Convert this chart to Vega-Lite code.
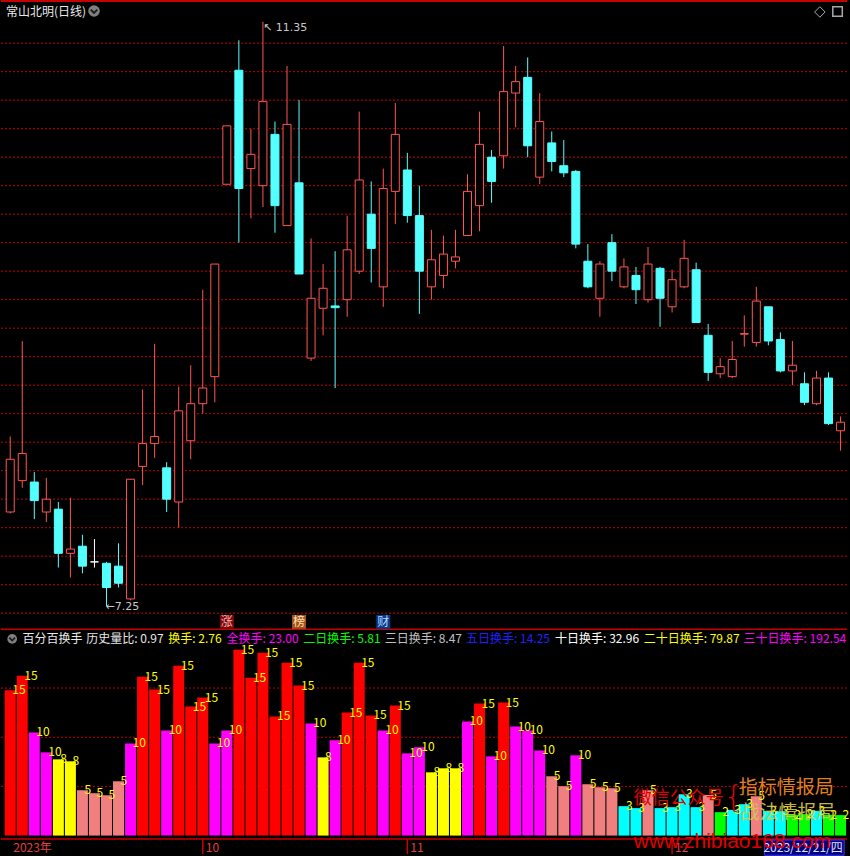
{
"$schema":"https://vega.github.io/schema/vega-lite/v6.json",
"width":850,"height":856,
"autosize":{"type":"fit","contains":"padding"},
"padding":0,
"background":"#000000",
"config":{"view":{"stroke":null},"text":{"font":"Noto Sans CJK SC"}},
"datasets":{
"k":[
{"i":0,"date":"2023-09-07","open":7.91,"high":8.44,"low":7.90,"close":8.28,"v":14.77,"lvl":15},
{"i":1,"date":"2023-09-08","open":8.13,"high":9.11,"low":8.08,"close":8.32,"v":16.26,"lvl":15},
{"i":2,"date":"2023-09-11","open":8.12,"high":8.19,"low":7.86,"close":7.99,"v":10.49,"lvl":10},
{"i":3,"date":"2023-09-12","open":7.91,"high":8.15,"low":7.84,"close":8.00,"v":8.46,"lvl":10},
{"i":4,"date":"2023-09-13","open":7.93,"high":7.98,"low":7.52,"close":7.62,"v":7.75,"lvl":8},
{"i":5,"date":"2023-09-14","open":7.62,"high":8.01,"low":7.45,"close":7.65,"v":7.55,"lvl":8},
{"i":6,"date":"2023-09-15","open":7.67,"high":7.75,"low":7.48,"close":7.53,"v":4.61,"lvl":5},
{"i":7,"date":"2023-09-18","open":7.56,"high":7.72,"low":7.52,"close":7.56,"v":4.31,"lvl":5},
{"i":8,"date":"2023-09-19","open":7.55,"high":7.56,"low":7.25,"close":7.38,"v":4.10,"lvl":5},
{"i":9,"date":"2023-09-20","open":7.53,"high":7.69,"low":7.38,"close":7.41,"v":5.52,"lvl":5},
{"i":10,"date":"2023-09-21","open":7.30,"high":8.14,"low":7.29,"close":8.14,"v":9.37,"lvl":10},
{"i":11,"date":"2023-09-22","open":8.23,"high":8.77,"low":8.10,"close":8.39,"v":16.16,"lvl":15},
{"i":12,"date":"2023-09-25","open":8.39,"high":9.09,"low":8.29,"close":8.44,"v":14.84,"lvl":15},
{"i":13,"date":"2023-09-26","open":8.22,"high":8.26,"low":7.91,"close":8.00,"v":10.69,"lvl":10},
{"i":14,"date":"2023-09-27","open":7.98,"high":8.79,"low":7.80,"close":8.62,"v":17.27,"lvl":15},
{"i":15,"date":"2023-09-28","open":8.41,"high":8.94,"low":8.28,"close":8.67,"v":13.12,"lvl":15},
{"i":16,"date":"2023-10-09","open":8.67,"high":9.47,"low":8.60,"close":8.78,"v":14.03,"lvl":15},
{"i":17,"date":"2023-10-10","open":8.86,"high":9.65,"low":8.68,"close":9.65,"v":9.37,"lvl":10},
{"i":18,"date":"2023-10-11","open":10.21,"high":10.62,"low":10.21,"close":10.62,"v":10.69,"lvl":10},
{"i":19,"date":"2023-10-12","open":11.01,"high":11.22,"low":9.80,"close":10.18,"v":18.9,"lvl":15},
{"i":20,"date":"2023-10-13","open":10.32,"high":10.60,"low":9.97,"close":10.42,"v":16.06,"lvl":15},
{"i":21,"date":"2023-10-16","open":10.20,"high":11.35,"low":10.05,"close":10.79,"v":18.59,"lvl":15},
{"i":22,"date":"2023-10-17","open":10.56,"high":10.65,"low":9.87,"close":10.06,"v":12.11,"lvl":15},
{"i":23,"date":"2023-10-18","open":9.92,"high":11.04,"low":9.92,"close":10.63,"v":17.58,"lvl":15},
{"i":24,"date":"2023-10-19","open":10.22,"high":10.80,"low":9.58,"close":9.58,"v":15.25,"lvl":15},
{"i":25,"date":"2023-10-20","open":8.99,"high":9.83,"low":8.97,"close":9.41,"v":11.40,"lvl":10},
{"i":26,"date":"2023-10-23","open":9.34,"high":9.65,"low":9.15,"close":9.48,"v":7.95,"lvl":8},
{"i":27,"date":"2023-10-24","open":9.356,"high":9.74,"low":8.78,"close":9.344,"v":9.68,"lvl":10},
{"i":28,"date":"2023-10-25","open":9.40,"high":9.99,"low":9.28,"close":9.75,"v":12.51,"lvl":15},
{"i":29,"date":"2023-10-26","open":9.60,"high":10.72,"low":9.58,"close":10.24,"v":17.58,"lvl":15},
{"i":30,"date":"2023-10-27","open":10.00,"high":10.23,"low":9.52,"close":9.76,"v":12.21,"lvl":15},
{"i":31,"date":"2023-10-30","open":9.49,"high":10.32,"low":9.35,"close":10.18,"v":10.69,"lvl":10},
{"i":32,"date":"2023-10-31","open":10.16,"high":10.78,"low":9.93,"close":10.56,"v":13.22,"lvl":15},
{"i":33,"date":"2023-11-01","open":10.31,"high":10.43,"low":9.94,"close":9.99,"v":8.36,"lvl":10},
{"i":34,"date":"2023-11-02","open":9.99,"high":10.20,"low":9.30,"close":9.60,"v":8.97,"lvl":10},
{"i":35,"date":"2023-11-03","open":9.49,"high":9.89,"low":9.40,"close":9.68,"v":6.43,"lvl":8},
{"i":36,"date":"2023-11-06","open":9.57,"high":9.85,"low":9.48,"close":9.72,"v":6.84,"lvl":8},
{"i":37,"date":"2023-11-07","open":9.67,"high":9.89,"low":9.62,"close":9.70,"v":6.84,"lvl":8},
{"i":38,"date":"2023-11-08","open":9.85,"high":10.28,"low":9.85,"close":10.16,"v":11.6,"lvl":10},
{"i":39,"date":"2023-11-09","open":10.06,"high":10.72,"low":9.88,"close":10.49,"v":13.42,"lvl":15},
{"i":40,"date":"2023-11-10","open":10.40,"high":10.45,"low":10.08,"close":10.23,"v":8.05,"lvl":10},
{"i":41,"date":"2023-11-13","open":10.41,"high":11.18,"low":10.32,"close":10.86,"v":13.53,"lvl":15},
{"i":42,"date":"2023-11-14","open":10.85,"high":11.04,"low":10.61,"close":10.93,"v":11.09,"lvl":10},
{"i":43,"date":"2023-11-15","open":10.96,"high":11.10,"low":10.40,"close":10.48,"v":10.69,"lvl":10},
{"i":44,"date":"2023-11-16","open":10.26,"high":10.85,"low":10.21,"close":10.65,"v":8.66,"lvl":10},
{"i":45,"date":"2023-11-17","open":10.50,"high":10.58,"low":10.30,"close":10.37,"v":6.03,"lvl":5},
{"i":46,"date":"2023-11-20","open":10.34,"high":10.52,"low":10.26,"close":10.29,"v":5.02,"lvl":5},
{"i":47,"date":"2023-11-21","open":10.30,"high":10.31,"low":9.76,"close":9.79,"v":8.16,"lvl":10},
{"i":48,"date":"2023-11-22","open":9.67,"high":9.79,"low":9.48,"close":9.49,"v":5.22,"lvl":5},
{"i":49,"date":"2023-11-23","open":9.41,"high":9.67,"low":9.28,"close":9.65,"v":4.91,"lvl":5},
{"i":50,"date":"2023-11-24","open":9.80,"high":9.86,"low":9.53,"close":9.60,"v":4.81,"lvl":5},
{"i":51,"date":"2023-11-27","open":9.49,"high":9.69,"low":9.48,"close":9.63,"v":2.99,"lvl":3},
{"i":52,"date":"2023-11-28","open":9.57,"high":9.63,"low":9.37,"close":9.47,"v":2.79,"lvl":3},
{"i":53,"date":"2023-11-29","open":9.40,"high":9.77,"low":9.38,"close":9.65,"v":4.61,"lvl":5},
{"i":54,"date":"2023-11-30","open":9.62,"high":9.63,"low":9.21,"close":9.41,"v":2.79,"lvl":3},
{"i":55,"date":"2023-12-01","open":9.35,"high":9.61,"low":9.31,"close":9.54,"v":2.89,"lvl":3},
{"i":56,"date":"2023-12-04","open":9.49,"high":9.82,"low":9.48,"close":9.69,"v":4.2,"lvl":3},
{"i":57,"date":"2023-12-05","open":9.61,"high":9.66,"low":9.24,"close":9.24,"v":2.89,"lvl":3},
{"i":58,"date":"2023-12-06","open":9.15,"high":9.23,"low":8.83,"close":8.89,"v":4.13,"lvl":5},
{"i":59,"date":"2023-12-07","open":8.88,"high":8.99,"low":8.85,"close":8.93,"v":2.38,"lvl":2},
{"i":60,"date":"2023-12-08","open":8.86,"high":9.11,"low":8.85,"close":8.98,"v":2.61,"lvl":3},
{"i":61,"date":"2023-12-11","open":9.158,"high":9.29,"low":9.07,"close":9.162,"v":3.19,"lvl":3},
{"i":62,"date":"2023-12-12","open":9.10,"high":9.49,"low":9.07,"close":9.39,"v":4.0,"lvl":5},
{"i":63,"date":"2023-12-13","open":9.35,"high":9.35,"low":9.08,"close":9.11,"v":2.51,"lvl":3},
{"i":64,"date":"2023-12-14","open":9.12,"high":9.17,"low":8.89,"close":8.90,"v":2.48,"lvl":3},
{"i":65,"date":"2023-12-15","open":8.90,"high":9.11,"low":8.80,"close":8.94,"v":2.11,"lvl":2},
{"i":66,"date":"2023-12-18","open":8.81,"high":8.89,"low":8.66,"close":8.68,"v":2.18,"lvl":2},
{"i":67,"date":"2023-12-19","open":8.67,"high":8.90,"low":8.66,"close":8.85,"v":2.51,"lvl":3},
{"i":68,"date":"2023-12-20","open":8.85,"high":8.89,"low":8.52,"close":8.53,"v":2.11,"lvl":2},
{"i":69,"date":"2023-12-21","open":8.48,"high":8.58,"low":8.34,"close":8.54,"v":2.08,"lvl":2}
],
"gp":[{"p":7.2},{"p":7.4},{"p":7.6},{"p":7.8},{"p":8.0},{"p":8.2},{"p":8.4},{"p":8.6},{"p":8.8},{"p":9.0},{"p":9.2},{"p":9.4},{"p":9.6},{"p":9.8},{"p":10.0},{"p":10.2},{"p":10.4},{"p":10.6},{"p":10.8},{"p":11.0},{"p":11.2}],
"gb":[{"v":5},{"v":10},{"v":15}],
"months":[{"i":0,"label":"2023年"},{"i":16,"label":"10"},{"i":33,"label":"11"},{"i":55,"label":"12"}],
"events":[{"i":18,"label":"涨"},{"i":24,"label":"榜"},{"i":31,"label":"财"}],
"stats":[{"name":"历史量比","value":"0.97"},{"name":"换手","value":"2.76"},{"name":"全换手","value":"23.00"},{"name":"二日换手","value":"5.81"},{"name":"三日换手","value":"8.47"},{"name":"五日换手","value":"14.25"},{"name":"十日换手","value":"32.96"},{"name":"二十日换手","value":"79.87"},{"name":"三十日换手","value":"192.54"}],
"one":[{}]
},
"layer":[
{"layer":[
{"data":{"name":"gp"},"mark":{"type":"rule","color":"#C00000","strokeDash":[2,2],"strokeWidth":1},
 "encoding":{"y":{"field":"p","type":"quantitative","scale":{"domain":[5.51,11.496],"nice":false,"zero":false},"axis":null}}},
{"data":{"name":"one"},"mark":{"type":"rule","color":"#C80000","strokeWidth":2},
 "encoding":{"y":{"datum":11.496,"type":"quantitative","scale":{"domain":[5.51,11.496],"nice":false,"zero":false},"axis":null}}},
{"data":{"name":"one"},"mark":{"type":"rule","color":"#C80000","strokeWidth":1.5},
 "encoding":{"y":{"datum":7.087,"type":"quantitative","scale":{"domain":[5.51,11.496],"nice":false,"zero":false},"axis":null}}},
{"data":{"name":"k"},"mark":{"type":"rule","strokeWidth":1},
 "encoding":{
  "x":{"field":"i","type":"quantitative","scale":{"domain":[-0.351,69.12],"nice":false,"zero":false},"axis":null},
  "y":{"field":"low","type":"quantitative","scale":{"domain":[5.51,11.496],"nice":false,"zero":false},"axis":null},
  "y2":{"field":"high"},
  "color":{"condition":[{"test":"datum.close>datum.open","value":"#FF5454"},{"test":"datum.close==datum.open","value":"#FFFFFF"}],"value":"#54FFFF"}}},
{"data":{"name":"k"},"mark":{"type":"bar","width":8,"strokeWidth":1},
 "encoding":{
  "x":{"field":"i","type":"quantitative","scale":{"domain":[-0.351,69.12],"nice":false,"zero":false},"axis":null},
  "y":{"field":"open","type":"quantitative","scale":{"domain":[5.51,11.496],"nice":false,"zero":false},"axis":null},
  "y2":{"field":"close"},
  "fill":{"condition":[{"test":"datum.close>datum.open","value":"#000000"},{"test":"datum.close==datum.open","value":"#FFFFFF"}],"value":"#54FFFF"},
  "stroke":{"condition":[{"test":"datum.close>datum.open","value":"#FF5454"},{"test":"datum.close==datum.open","value":"#FFFFFF"}],"value":"#54FFFF"}}},
{"data":{"name":"k"},"transform":[{"filter":"datum.i==21"},{"calculate":"'↖ '+format(datum.high,'.2f')","as":"t"}],
 "mark":{"type":"text","font":"DejaVu Sans","fontSize":11,"color":"#C8C8C8","align":"left","baseline":"top","dx":0,"dy":0},
 "encoding":{
  "x":{"field":"i","type":"quantitative","scale":{"domain":[-0.351,69.12],"nice":false,"zero":false},"axis":null},
  "y":{"field":"high","type":"quantitative","scale":{"domain":[5.51,11.496],"nice":false,"zero":false},"axis":null},
  "text":{"field":"t"}}},
{"data":{"name":"k"},"transform":[{"filter":"datum.i==8"},{"calculate":"'←'+format(datum.low,'.2f')","as":"t"}],
 "mark":{"type":"text","font":"DejaVu Sans","fontSize":11,"color":"#C8C8C8","align":"left","baseline":"middle","dx":-1,"dy":1},
 "encoding":{
  "x":{"field":"i","type":"quantitative","scale":{"domain":[-0.351,69.12],"nice":false,"zero":false},"axis":null},
  "y":{"field":"low","type":"quantitative","scale":{"domain":[5.51,11.496],"nice":false,"zero":false},"axis":null},
  "text":{"field":"t"}}},
{"data":{"name":"events"},"mark":{"type":"point","shape":"square","filled":true,"size":196,"opacity":1},
 "encoding":{
  "x":{"field":"i","type":"quantitative","scale":{"domain":[-0.351,69.12],"nice":false,"zero":false},"axis":null},
  "y":{"datum":7.139,"type":"quantitative","scale":{"domain":[5.51,11.496],"nice":false,"zero":false},"axis":null},
  "color":{"condition":[{"test":"datum.label==='涨'","value":"#7A0A0A"},{"test":"datum.label==='榜'","value":"#A0521A"}],"value":"#0A3A8A"}}},
{"data":{"name":"events"},"mark":{"type":"text","fontSize":12,"baseline":"middle","align":"center"},
 "encoding":{
  "x":{"field":"i","type":"quantitative","scale":{"domain":[-0.351,69.12],"nice":false,"zero":false},"axis":null},
  "y":{"datum":7.139,"type":"quantitative","scale":{"domain":[5.51,11.496],"nice":false,"zero":false},"axis":null},
  "text":{"field":"label"},
  "color":{"condition":[{"test":"datum.label==='涨'","value":"#FFB0B0"},{"test":"datum.label==='榜'","value":"#FFE0B0"}],"value":"#B0D8FF"}}},
{"data":{"name":"one"},"mark":{"type":"text","fontSize":12,"color":"#E8E8E8","align":"left","baseline":"middle"},
 "encoding":{
  "x":{"datum":-0.351,"type":"quantitative","scale":{"domain":[-0.351,69.12],"nice":false,"zero":false},"axis":null},
  "y":{"datum":11.422,"type":"quantitative","scale":{"domain":[5.51,11.496],"nice":false,"zero":false},"axis":null},
  "text":{"value":"常山北明(日线)"}}},
{"data":{"name":"one"},"mark":{"type":"point","shape":"circle","filled":true,"size":133,"color":"#7F7F7F","opacity":1},
 "encoding":{
  "x":{"datum":6.964,"type":"quantitative","scale":{"domain":[-0.351,69.12],"nice":false,"zero":false},"axis":null},
  "y":{"datum":11.426,"type":"quantitative","scale":{"domain":[5.51,11.496],"nice":false,"zero":false},"axis":null}}},
{"data":{"name":"one"},"mark":{"type":"point","shape":"M-0.6,-0.25L0,0.35L0.6,-0.25","filled":false,"size":120,"color":"#1A1A1A","strokeWidth":1.8,"opacity":1},
 "encoding":{
  "x":{"datum":6.964,"type":"quantitative","scale":{"domain":[-0.351,69.12],"nice":false,"zero":false},"axis":null},
  "y":{"datum":11.426,"type":"quantitative","scale":{"domain":[5.51,11.496],"nice":false,"zero":false},"axis":null}}},
{"data":{"name":"one"},"mark":{"type":"point","shape":"diamond","filled":false,"size":110,"color":"#A8A8A8","strokeWidth":1,"opacity":1},
 "encoding":{
  "x":{"datum":67.28,"type":"quantitative","scale":{"domain":[-0.351,69.12],"nice":false,"zero":false},"axis":null},
  "y":{"datum":11.419,"type":"quantitative","scale":{"domain":[5.51,11.496],"nice":false,"zero":false},"axis":null}}},
{"data":{"name":"one"},"mark":{"type":"point","shape":"square","filled":false,"size":90,"color":"#A8A8A8","strokeWidth":1.5,"opacity":1},
 "encoding":{
  "x":{"datum":68.75,"type":"quantitative","scale":{"domain":[-0.351,69.12],"nice":false,"zero":false},"axis":null},
  "y":{"datum":11.422,"type":"quantitative","scale":{"domain":[5.51,11.496],"nice":false,"zero":false},"axis":null}}}
]},
{"layer":[
{"data":{"name":"gb"},"mark":{"type":"rule","color":"#C00000","strokeDash":[2,2],"strokeWidth":1},
 "encoding":{"y":{"field":"v","type":"quantitative","scale":{"domain":[-1.874,84.86],"nice":false,"zero":false},"axis":null}}},
{"data":{"name":"k"},"mark":{"type":"bar","width":11},
 "encoding":{
  "x":{"field":"i","type":"quantitative","scale":{"domain":[-0.351,69.12],"nice":false,"zero":false},"axis":null},
  "y":{"field":"v","type":"quantitative","scale":{"domain":[-1.874,84.86],"nice":false,"zero":false},"axis":null},
  "y2":{"datum":0},
  "color":{"field":"lvl","type":"ordinal","scale":{"domain":[15,10,8,5,3,2],"range":["#FF0000","#FF00FF","#FFFF00","#F08080","#00FFFF","#00FF00"]},"legend":null}}},
{"data":{"name":"k"},"mark":{"type":"text","fontSize":12,"color":"#FFFF00","align":"left","baseline":"middle","dx":2},
 "encoding":{
  "x":{"field":"i","type":"quantitative","scale":{"domain":[-0.351,69.12],"nice":false,"zero":false},"axis":null},
  "y":{"field":"v","type":"quantitative","scale":{"domain":[-1.874,84.86],"nice":false,"zero":false},"axis":null},
  "text":{"field":"lvl","type":"nominal"}}},
{"data":{"name":"one"},"mark":{"type":"rule","color":"#C80000","strokeWidth":1.5},
 "encoding":{"y":{"datum":-0.355,"type":"quantitative","scale":{"domain":[-1.874,84.86],"nice":false,"zero":false},"axis":null}}},
{"data":{"name":"months"},"transform":[{"filter":"datum.i>0"}],"mark":{"type":"rule","color":"#C80000","strokeWidth":1.5},
 "encoding":{
  "x":{"field":"i","type":"quantitative","scale":{"domain":[-0.351,69.12],"nice":false,"zero":false},"axis":null},
  "y":{"datum":-0.355,"type":"quantitative","scale":{"domain":[-1.874,84.86],"nice":false,"zero":false},"axis":null},
  "y2":{"datum":-1.874}}},
{"data":{"name":"months"},"mark":{"type":"text","fontSize":12,"color":"#E04040","align":"left","baseline":"middle","dx":3},
 "encoding":{
  "x":{"field":"i","type":"quantitative","scale":{"domain":[-0.351,69.12],"nice":false,"zero":false},"axis":null},
  "y":{"datum":-1.216,"type":"quantitative","scale":{"domain":[-1.874,84.86],"nice":false,"zero":false},"axis":null},
  "text":{"field":"label"}}},
{"data":{"name":"one"},"mark":{"type":"point","shape":"circle","filled":true,"size":95,"color":"#7F7F7F","opacity":1},
 "encoding":{
  "x":{"datum":0.163,"type":"quantitative","scale":{"domain":[-0.351,69.12],"nice":false,"zero":false},"axis":null},
  "y":{"datum":20.0,"type":"quantitative","scale":{"domain":[-1.874,84.86],"nice":false,"zero":false},"axis":null}}},
{"data":{"name":"one"},"mark":{"type":"point","shape":"M-0.6,-0.25L0,0.35L0.6,-0.25","filled":false,"size":90,"color":"#1A1A1A","strokeWidth":1.6,"opacity":1},
 "encoding":{
  "x":{"datum":0.163,"type":"quantitative","scale":{"domain":[-0.351,69.12],"nice":false,"zero":false},"axis":null},
  "y":{"datum":20.0,"type":"quantitative","scale":{"domain":[-1.874,84.86],"nice":false,"zero":false},"axis":null}}},
{"data":{"name":"one"},"mark":{"type":"text","fontSize":12,"color":"#E8E8E8","align":"left","baseline":"middle"},
 "encoding":{
  "x":{"datum":1.013,"type":"quantitative","scale":{"domain":[-0.351,69.12],"nice":false,"zero":false},"axis":null},
  "y":{"datum":20.0,"type":"quantitative","scale":{"domain":[-1.874,84.86],"nice":false,"zero":false},"axis":null},
  "text":{"value":"百分百换手"}}},
{"data":{"name":"stats"},"transform":[{"filter":"datum.name==='历史量比'"},{"calculate":"datum.name+': '+datum.value","as":"t"}],
 "mark":{"type":"text","fontSize":12,"color":"#E8E8E8","align":"left","baseline":"middle"},
 "encoding":{
  "x":{"datum":6.326,"type":"quantitative","scale":{"domain":[-0.351,69.12],"nice":false,"zero":false},"axis":null},
  "y":{"datum":20.0,"type":"quantitative","scale":{"domain":[-1.874,84.86],"nice":false,"zero":false},"axis":null},
  "text":{"field":"t"}}},
{"data":{"name":"stats"},"transform":[{"filter":"datum.name==='换手'"},{"calculate":"datum.name+': '+datum.value","as":"t"}],
 "mark":{"type":"text","fontSize":12,"color":"#FFFF00","align":"left","baseline":"middle"},
 "encoding":{
  "x":{"datum":13.134,"type":"quantitative","scale":{"domain":[-0.351,69.12],"nice":false,"zero":false},"axis":null},
  "y":{"datum":20.0,"type":"quantitative","scale":{"domain":[-1.874,84.86],"nice":false,"zero":false},"axis":null},
  "text":{"field":"t"}}},
{"data":{"name":"stats"},"transform":[{"filter":"datum.name==='全换手'"},{"calculate":"datum.name+': '+datum.value","as":"t"}],
 "mark":{"type":"text","fontSize":12,"color":"#FF00FF","align":"left","baseline":"middle"},
 "encoding":{
  "x":{"datum":17.981,"type":"quantitative","scale":{"domain":[-0.351,69.12],"nice":false,"zero":false},"axis":null},
  "y":{"datum":20.0,"type":"quantitative","scale":{"domain":[-1.874,84.86],"nice":false,"zero":false},"axis":null},
  "text":{"field":"t"}}},
{"data":{"name":"stats"},"transform":[{"filter":"datum.name==='二日换手'"},{"calculate":"datum.name+': '+datum.value","as":"t"}],
 "mark":{"type":"text","fontSize":12,"color":"#00FF00","align":"left","baseline":"middle"},
 "encoding":{
  "x":{"datum":24.357,"type":"quantitative","scale":{"domain":[-0.351,69.12],"nice":false,"zero":false},"axis":null},
  "y":{"datum":20.0,"type":"quantitative","scale":{"domain":[-1.874,84.86],"nice":false,"zero":false},"axis":null},
  "text":{"field":"t"}}},
{"data":{"name":"stats"},"transform":[{"filter":"datum.name==='三日换手'"},{"calculate":"datum.name+': '+datum.value","as":"t"}],
 "mark":{"type":"text","fontSize":12,"color":"#C0C0C0","align":"left","baseline":"middle"},
 "encoding":{
  "x":{"datum":31.116,"type":"quantitative","scale":{"domain":[-0.351,69.12],"nice":false,"zero":false},"axis":null},
  "y":{"datum":20.0,"type":"quantitative","scale":{"domain":[-1.874,84.86],"nice":false,"zero":false},"axis":null},
  "text":{"field":"t"}}},
{"data":{"name":"stats"},"transform":[{"filter":"datum.name==='五日换手'"},{"calculate":"datum.name+': '+datum.value","as":"t"}],
 "mark":{"type":"text","fontSize":12,"color":"#2020FF","align":"left","baseline":"middle"},
 "encoding":{
  "x":{"datum":37.875,"type":"quantitative","scale":{"domain":[-0.351,69.12],"nice":false,"zero":false},"axis":null},
  "y":{"datum":20.0,"type":"quantitative","scale":{"domain":[-1.874,84.86],"nice":false,"zero":false},"axis":null},
  "text":{"field":"t"}}},
{"data":{"name":"stats"},"transform":[{"filter":"datum.name==='十日换手'"},{"calculate":"datum.name+': '+datum.value","as":"t"}],
 "mark":{"type":"text","fontSize":12,"color":"#FFFFFF","align":"left","baseline":"middle"},
 "encoding":{
  "x":{"datum":45.28,"type":"quantitative","scale":{"domain":[-0.351,69.12],"nice":false,"zero":false},"axis":null},
  "y":{"datum":20.0,"type":"quantitative","scale":{"domain":[-1.874,84.86],"nice":false,"zero":false},"axis":null},
  "text":{"field":"t"}}},
{"data":{"name":"stats"},"transform":[{"filter":"datum.name==='二十日换手'"},{"calculate":"datum.name+': '+datum.value","as":"t"}],
 "mark":{"type":"text","fontSize":12,"color":"#FFFF00","align":"left","baseline":"middle"},
 "encoding":{
  "x":{"datum":52.636,"type":"quantitative","scale":{"domain":[-0.351,69.12],"nice":false,"zero":false},"axis":null},
  "y":{"datum":20.0,"type":"quantitative","scale":{"domain":[-1.874,84.86],"nice":false,"zero":false},"axis":null},
  "text":{"field":"t"}}},
{"data":{"name":"stats"},"transform":[{"filter":"datum.name==='三十日换手'"},{"calculate":"datum.name+': '+datum.value","as":"t"}],
 "mark":{"type":"text","fontSize":12,"color":"#FF00FF","align":"left","baseline":"middle"},
 "encoding":{
  "x":{"datum":60.94,"type":"quantitative","scale":{"domain":[-0.351,69.12],"nice":false,"zero":false},"axis":null},
  "y":{"datum":20.0,"type":"quantitative","scale":{"domain":[-1.874,84.86],"nice":false,"zero":false},"axis":null},
  "text":{"field":"t"}}},
{"data":{"name":"one"},"mark":{"type":"rect","fill":"#000080","stroke":"#3A3AFF","strokeWidth":1},
 "encoding":{
  "x":{"datum":62.67,"type":"quantitative","scale":{"domain":[-0.351,69.12],"nice":false,"zero":false},"axis":null},
  "x2":{"datum":69.3},
  "y":{"datum":-0.45,"type":"quantitative","scale":{"domain":[-1.874,84.86],"nice":false,"zero":false},"axis":null},
  "y2":{"datum":-2.0}}},
{"data":{"name":"one"},"mark":{"type":"text","fontSize":12,"color":"#E0E0F0","align":"center","baseline":"middle"},
 "encoding":{
  "x":{"datum":65.89,"type":"quantitative","scale":{"domain":[-0.351,69.12],"nice":false,"zero":false},"axis":null},
  "y":{"datum":-1.216,"type":"quantitative","scale":{"domain":[-1.874,84.86],"nice":false,"zero":false},"axis":null},
  "text":{"value":"2023/12/21/四"}}},
{"data":{"name":"one"},"mark":{"type":"text","fontSize":18,"color":"#E00000","align":"left","baseline":"middle"},
 "encoding":{
  "x":{"datum":51.82,"type":"quantitative","scale":{"domain":[-0.351,69.12],"nice":false,"zero":false},"axis":null},
  "y":{"datum":3.7,"type":"quantitative","scale":{"domain":[-1.874,84.86],"nice":false,"zero":false},"axis":null},
  "text":{"value":"微信公众号"}}},
{"data":{"name":"one"},"mark":{"type":"text","font":"DejaVu Sans","fontSize":30,"fontWeight":"lighter","color":"#E00000","align":"left","baseline":"middle"},
 "encoding":{
  "x":{"datum":59.31,"type":"quantitative","scale":{"domain":[-0.351,69.12],"nice":false,"zero":false},"axis":null},
  "y":{"datum":3.8,"type":"quantitative","scale":{"domain":[-1.874,84.86],"nice":false,"zero":false},"axis":null},
  "text":{"value":"{"}}},
{"data":{"name":"one"},"mark":{"type":"text","fontSize":19,"color":"#E08020","align":"left","baseline":"middle"},
 "encoding":{
  "x":{"datum":60.54,"type":"quantitative","scale":{"domain":[-0.351,69.12],"nice":false,"zero":false},"axis":null},
  "y":{"datum":4.81,"type":"quantitative","scale":{"domain":[-1.874,84.86],"nice":false,"zero":false},"axis":null},
  "text":{"value":"指标情报局"}}},
{"data":{"name":"one"},"mark":{"type":"text","fontSize":19,"color":"#D8C850","opacity":0.9,"align":"left","baseline":"middle"},
 "encoding":{
  "x":{"datum":60.68,"type":"quantitative","scale":{"domain":[-0.351,69.12],"nice":false,"zero":false},"axis":null},
  "y":{"datum":2.28,"type":"quantitative","scale":{"domain":[-1.874,84.86],"nice":false,"zero":false},"axis":null},
  "text":{"value":"战法情报局"}}},
{"data":{"name":"one"},"mark":{"type":"text","font":"Liberation Sans","fontSize":21,"color":"#E00000","align":"left","baseline":"alphabetic"},
 "encoding":{
  "x":{"datum":51.82,"type":"quantitative","scale":{"domain":[-0.351,69.12],"nice":false,"zero":false},"axis":null},
  "y":{"datum":-1.27,"type":"quantitative","scale":{"domain":[-1.874,84.86],"nice":false,"zero":false},"axis":null},
  "text":{"value":"www.zhibiao168.com"}}}
]}
],
"resolve":{"scale":{"y":"independent","color":"independent"}}
}
